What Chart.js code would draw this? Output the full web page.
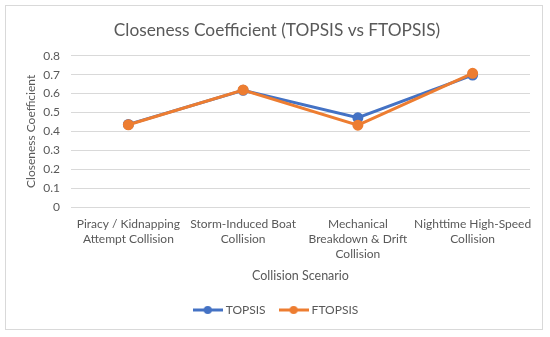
<!DOCTYPE html>
<html>
<head>
<meta charset="utf-8">
<script src="https://cdn.jsdelivr.net/npm/chart.js@4.4.1/dist/chart.umd.min.js"></script>
<style>
  html, body { margin: 0; padding: 0; background: #fff; }
  #frame {
    position: absolute; left: 5px; top: 5px;
    width: 538px; height: 325px;
    border: 1px solid #d9d9d9; box-sizing: border-box;
  }
  #wrap { position: absolute; left: 0; top: 0; width: 550px; height: 337px; }
</style>
</head>
<body>
<div id="frame"></div>
<div id="wrap"><canvas id="chart" width="550" height="337"></canvas></div>
<script>
// chart data
const scenarios = [
    ['Piracy / Kidnapping', 'Attempt Collision'],
    ['Storm-Induced Boat', 'Collision'],
    ['Mechanical', 'Breakdown & Drift', 'Collision'],
    ['Nighttime High-Speed', 'Collision']
];
const topsisValues = [0.437, 0.617, 0.472, 0.698];
const ftopsisValues = [0.435, 0.619, 0.433, 0.707];
const yTicks = [0, 0.1, 0.2, 0.3, 0.4, 0.5, 0.6, 0.7, 0.8];

const blue = '#4472c4';
const orange = '#ed7d31';
const textColor = '#595959';
const fontName = 'Lato, "Liberation Sans", sans-serif';

// little line+dot swatch for the legend
function makeSwatch(color) {
    let c = document.createElement('canvas');
    c.width = 30; c.height = 10;
    let ctx = c.getContext('2d');
    ctx.strokeStyle = color;
    ctx.lineWidth = 3;
    ctx.beginPath();
    ctx.moveTo(0, 5); ctx.lineTo(30, 5);
    ctx.stroke();
    ctx.fillStyle = color;
    ctx.beginPath();
    ctx.arc(15, 5, 4, 0, Math.PI * 2);
    ctx.fill();
    return c;
}

new Chart(document.getElementById('chart').getContext('2d'), {
    type: 'line',
    data: {
        labels: scenarios,
        datasets: [{
            label: 'TOPSIS',
            data: topsisValues,
            borderColor: blue,
            backgroundColor: blue,
            borderWidth: 3,
            pointRadius: 4,
            pointStyle: 'circle',
            tension: 0,
            order: 1
        }, {
            label: 'FTOPSIS',
            data: ftopsisValues,
            borderColor: orange,
            backgroundColor: orange,
            borderWidth: 3,
            pointRadius: 4,
            pointStyle: 'circle',
            tension: 0,
            order: 0
        }]
    },
    options: {
        responsive: false,
        animation: false,
        layout: { padding: { left: 24, right: 20, top: 12, bottom: 11 } },
        plugins: {
            title: {
                display: true,
                text: 'Closeness Coefficient (TOPSIS vs FTOPSIS)',
                color: textColor,
                font: { family: fontName, size: 17.3, weight: 'normal' },
                padding: { top: 8, bottom: 15 }
            },
            legend: {
                position: 'bottom',
                labels: {
                    color: textColor,
                    font: { family: fontName, size: 12 },
                    usePointStyle: true,
                    pointStyleWidth: 24,
                    padding: 16,
                    generateLabels: (chart) => chart.data.datasets.map((ds, i) => ({
                        text: ds.label,
                        fontColor: textColor,
                        pointStyle: makeSwatch(ds.borderColor),
                        datasetIndex: i,
                        hidden: false,
                        lineWidth: 0
                    }))
                }
            },
            tooltip: { enabled: false }
        },
        scales: {
            x: {
                offset: true,
                grid: { display: false },
                border: { display: false },
                // labels fit inside the category bands, no extra side padding needed
                afterFit: (axis) => { axis.paddingLeft = 0; axis.paddingRight = 0; },
                ticks: {
                    color: textColor,
                    font: { family: fontName, size: 12, lineHeight: 1.25 },
                    maxRotation: 0,
                    autoSkip: false,
                    padding: 2
                },
                title: {
                    display: true,
                    text: 'Collision Scenario',
                    color: textColor,
                    font: { family: fontName, size: 12.5 },
                    padding: { top: 4, bottom: 5 }
                }
            },
            y: {
                min: 0,
                max: 0.8,
                afterBuildTicks: (axis) => { axis.ticks = yTicks.map(v => ({ value: v })); },
                // fixed axis width so the plot starts where the original one does
                afterFit: (axis) => { axis.width = 47; },
                grid: { color: '#d9d9d9', drawTicks: false },
                border: { display: false },
                ticks: {
                    color: textColor,
                    font: { family: fontName, size: 12 },
                    padding: 11,
                    callback: (v) => v === 0 ? '0' : v.toFixed(1)
                },
                title: {
                    display: true,
                    text: 'Closeness Coefficient',
                    color: textColor,
                    font: { family: fontName, size: 12 },
                    padding: { top: 0, bottom: 5 }
                }
            }
        }
    }
});
</script>
</body>
</html>
